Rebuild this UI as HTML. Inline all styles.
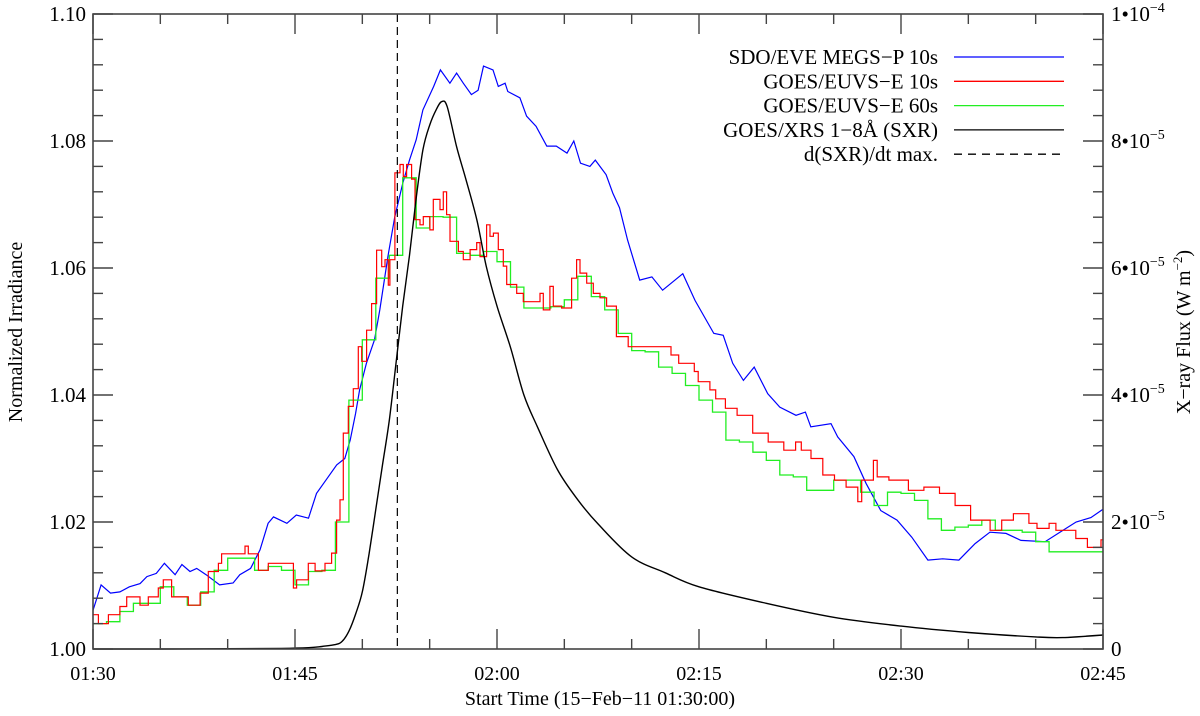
<!DOCTYPE html>
<html><head><meta charset="utf-8"><title>Irradiance chart</title>
<style>html,body{margin:0;padding:0;background:#fff;}svg{display:block;font-family:"Liberation Serif",serif;}</style>
</head><body>
<svg id="chart" width="1200" height="716" viewBox="0 0 1200 716" xmlns="http://www.w3.org/2000/svg">
<rect x="0" y="0" width="1200" height="716" fill="#fff"/>
<g id="series"></g>
<g id="axes"></g>
<g id="legend"></g>
<text x="600" y="705" font-size="20" text-anchor="middle">Start Time (15−Feb−11 01:30:00)</text>
<text transform="translate(22,332) rotate(-90)" font-size="20" text-anchor="middle">Normalized Irradiance</text>
<text transform="translate(1190,332) rotate(-90)" font-size="20" text-anchor="middle">X−ray Flux (W m<tspan dy="-8" font-size="13">−2</tspan><tspan dy="8">)</tspan></text>
</svg>
<script>
// ---- data (time in minutes after 01:30) ----
const blueT = [0,0.6,1.3,2,2.7,3.5,4,4.7,5.3,6.1,6.6,7.2,7.7,8.4,9.4,10.4,10.9,11.7,12.4,13,13.4,14.4,15.1,16,16.6,17.4,18.1,18.7,19.1,19.5,19.8,20.3,20.9,21.3,21.9,22.4,23,23.5,24,24.5,25.3,25.8,26.5,27,27.5,28.1,28.6,29,29.7,30.1,30.6,30.8,31.7,32.2,32.9,33.7,34.4,35.2,35.7,36.2,36.9,37.3,38.1,38.6,39.1,39.7,40.6,41.5,42.3,43.8,44.7,46.1,46.8,47.5,48.3,49.1,50.1,51,52.2,52.9,53.3,54.8,55.3,56.5,57.4,58.5,59.7,60.8,62,63.1,64.3,65.5,66.6,67.8,68.9,70.7,71.8,73,74.1,75];
const blueV = [1.0061,1.0101,1.0088,1.009,1.0098,1.0103,1.0114,1.0119,1.0135,1.0117,1.0133,1.0122,1.0127,1.0117,1.0101,1.0104,1.0117,1.0127,1.0156,1.0198,1.0208,1.0198,1.0211,1.0206,1.0245,1.0269,1.029,1.030,1.0329,1.0371,1.0408,1.045,1.0487,1.0534,1.0618,1.068,1.0733,1.077,1.0802,1.0849,1.0886,1.0912,1.0891,1.0907,1.0891,1.0873,1.088,1.0918,1.0912,1.0886,1.0891,1.0878,1.0868,1.0839,1.0823,1.0792,1.0792,1.0781,1.08,1.0765,1.076,1.077,1.0747,1.0718,1.0695,1.0644,1.0581,1.0586,1.0565,1.0591,1.0549,1.0497,1.0494,1.045,1.0423,1.0444,1.0402,1.0381,1.0368,1.0373,1.035,1.0355,1.0334,1.0303,1.0261,1.0218,1.0203,1.0176,1.014,1.0142,1.014,1.0166,1.0184,1.0182,1.0171,1.0169,1.0184,1.02,1.0207,1.022];
const redT = [0,0.40,1.14,2.0,2.5,3.49,4.11,4.85,5.22,5.84,7.08,7.95,8.56,9.31,9.55,11.29,11.53,12.28,13.02,14.88,15.12,15.99,16.49,17.23,17.72,18.09,18.34,18.59,18.96,19.33,19.70,19.95,20.32,20.69,21.06,21.44,21.68,21.93,22.05,22.42,22.8,23.04,23.29,23.66,23.91,24.28,24.53,25.02,25.27,25.77,26.01,26.26,26.51,27.13,27.5,28.0,28.49,28.74,29.23,29.48,29.73,30.1,30.47,30.72,31.46,31.95,33.19,33.44,33.93,34.18,34.8,35.54,35.91,36.16,36.66,37.15,37.65,38.14,38.87,39.74,42.92,43.49,44.65,44.94,45.81,46.24,46.96,47.83,48.99,50.14,51.3,52.17,52.6,53.32,54.19,55.06,55.92,56.79,57.08,57.95,58.23,59.1,60.55,61.7,62.86,64.02,65.17,66.62,67.48,68.35,69.5,70.1,71.0,71.5,72.4,72.98,73.84,74.85];
const redV = [1.0054,1.004,1.0054,1.0067,1.0082,1.0069,1.0082,1.0096,1.0109,1.0082,1.0069,1.0088,1.0122,1.0135,1.015,1.0162,1.015,1.0124,1.0135,1.0096,1.0109,1.0135,1.0123,1.0135,1.0151,1.0203,1.0235,1.034,1.0382,1.041,1.0476,1.0453,1.0502,1.0544,1.0628,1.0602,1.0613,1.0573,1.0613,1.075,1.0763,1.0744,1.0763,1.074,1.0676,1.0668,1.0681,1.066,1.0708,1.0692,1.072,1.0684,1.0642,1.0626,1.0613,1.0629,1.064,1.0618,1.0668,1.065,1.0655,1.0629,1.0603,1.0574,1.056,1.0547,1.056,1.0534,1.0571,1.054,1.0537,1.0584,1.0613,1.0592,1.0576,1.056,1.0553,1.054,1.0492,1.0476,1.0463,1.045,1.0437,1.0421,1.0408,1.0394,1.0379,1.0368,1.034,1.0326,1.0313,1.0326,1.0313,1.03,1.0274,1.0266,1.0255,1.0232,1.0266,1.0297,1.0271,1.0266,1.025,1.0255,1.0245,1.0226,1.0203,1.0187,1.0203,1.0213,1.0198,1.019,1.0198,1.0187,1.0187,1.0174,1.016,1.0172];
const greenV = [1.004,1.0043,1.0059,1.0072,1.0072,1.0098,1.0082,1.0069,1.009,1.0124,1.0143,1.0143,1.0124,1.013,1.0124,1.0101,1.0122,1.0124,1.020,1.0392,1.0487,1.0584,1.062,1.0742,1.0663,1.0681,1.068,1.0623,1.062,1.0626,1.061,1.057,1.0537,1.0537,1.0539,1.055,1.0587,1.0555,1.0534,1.0497,1.047,1.0468,1.0444,1.0434,1.0415,1.0392,1.0373,1.0329,1.0326,1.031,1.0297,1.0274,1.0271,1.025,1.025,1.0266,1.0266,1.0247,1.0226,1.0247,1.0245,1.0234,1.0205,1.0187,1.0192,1.0195,1.0203,1.0187,1.0187,1.0184,1.0169,1.0153,1.0153,1.0153,1.0153];
const sxrT = [0,5,10,14,16,17,18,18.5,19,19.5,20,20.5,21,21.5,22,22.5,23,23.5,24,24.5,25,25.5,25.9,26.3,27,27.7,28.5,29.2,30,31,32,33,34.5,36,37.5,40,42.5,45,50,55,60,65,70,72,75];
const sxrV = [0,0,0.005,0.01,0.02,0.04,0.07,0.12,0.28,0.55,0.9,1.5,2.2,2.9,3.6,4.5,5.4,6.2,7.1,7.86,8.25,8.5,8.62,8.54,7.91,7.39,6.76,6.03,5.4,4.75,4.0,3.5,2.82,2.35,1.97,1.45,1.2,0.98,0.72,0.5,0.36,0.26,0.19,0.18,0.22];
const dtMaxTime = 22.6;
const yTicks = [1.00,1.02,1.04,1.06,1.08,1.10];
const y2Ticks = [0,2,4,6,8,10];
const xTickLabels = ["01:30","01:45","02:00","02:15","02:30","02:45"];

const X0=93, X1=1103, Y0=649, Y1=14;
function X(t){return X0+(X1-X0)*t/75;}
function Y(v){return Y0-(Y0-Y1)*(v-1)/0.1;}
function YF(f){return Y0-(Y0-Y1)*f/10;}
const NS="http://www.w3.org/2000/svg";
function mk(tag,attrs,parent){const e=document.createElementNS(NS,tag);for(const k in attrs)e.setAttribute(k,attrs[k]);parent.appendChild(e);return e;}
const S=document.getElementById('series'), A=document.getElementById('axes'), L=document.getElementById('legend');

// blue
let d='';blueT.forEach((t,i)=>{d+=(i?'L':'M')+X(t).toFixed(1)+' '+Y(blueV[i]).toFixed(1);});
let p=mk('path',{d:d,fill:'none',stroke:'#0000ff','stroke-width':1.2},S);


// green steps
d='';greenV.forEach((v,i)=>{d+=(i?'L':'M')+X(i).toFixed(1)+' '+Y(v).toFixed(1)+'L'+X(i+1).toFixed(1)+' '+Y(v).toFixed(1);});
p=mk('path',{d:d,fill:'none',stroke:'#22ee22','stroke-width':1.3},S);


// red steps
d='';redT.forEach((t,i)=>{const t2=i<redT.length-1?redT[i+1]:75;d+=(i?'L':'M')+X(t).toFixed(1)+' '+Y(redV[i]).toFixed(1)+'L'+X(t2).toFixed(1)+' '+Y(redV[i]).toFixed(1);});
p=mk('path',{d:d,fill:'none',stroke:'#ff0000','stroke-width':1.2},S);


// sxr smooth (Catmull-Rom through data points)
const P=sxrT.map((t,i)=>[X(t),YF(sxrV[i])]);
d='M'+P[0][0].toFixed(1)+' '+P[0][1].toFixed(1);
for(let i=0;i<P.length-1;i++){const p0=P[Math.max(0,i-1)],p1=P[i],p2=P[i+1],p3=P[Math.min(P.length-1,i+2)];
 const c1=[p1[0]+(p2[0]-p0[0])/6,p1[1]+(p2[1]-p0[1])/6],c2=[p2[0]-(p3[0]-p1[0])/6,p2[1]-(p3[1]-p1[1])/6];
 c1[1]=Math.min(c1[1],Y0);c2[1]=Math.min(c2[1],Y0);
 d+='C'+c1[0].toFixed(1)+' '+c1[1].toFixed(1)+' '+c2[0].toFixed(1)+' '+c2[1].toFixed(1)+' '+p2[0].toFixed(1)+' '+p2[1].toFixed(1);}
p=mk('path',{d:d,fill:'none',stroke:'#000','stroke-width':1.4,'stroke-linejoin':'round'},S);


// dashed
p=mk('line',{x1:X(dtMaxTime),x2:X(dtMaxTime),y1:Y1,y2:Y0,stroke:'#000','stroke-width':1.2,'stroke-dasharray':'8 5'},S);



// axes frame
p=mk('rect',{x:X0,y:Y1,width:X1-X0,height:Y0-Y1,fill:'none',stroke:'#444','stroke-width':1.6},A);


for(let m=0;m<=75;m+=5){const maj=m%15===0,len=maj?20:10,x=X(m);
 mk('line',{x1:x,x2:x,y1:Y0,y2:Y0-len,stroke:'#444','stroke-width':1.4},A);
 mk('line',{x1:x,x2:x,y1:Y1,y2:Y1+len,stroke:'#444','stroke-width':1.4},A);}
xTickLabels.forEach((s,i)=>{const e=mk('text',{x:X(i*15),y:680,'font-size':20,'text-anchor':'middle'},A);e.textContent=s;
 
 });
for(let k=0;k<=25;k++){const v=1+k*0.004,maj=k%5===0,len=maj?20:10,y=Y(v);
 mk('line',{x1:X0,x2:X0+len,y1:y,y2:y,stroke:'#444','stroke-width':1.4},A);
 mk('line',{x1:X1,x2:X1-len,y1:y,y2:y,stroke:'#444','stroke-width':1.4},A);}
yTicks.forEach(v=>{const e=mk('text',{x:86,y:Y(v)+7,'font-size':21,'text-anchor':'end'},A);e.textContent=v.toFixed(2);
 
 });
y2Ticks.forEach(f=>{const e=mk('text',{x:1111,y:YF(f)+7,'font-size':21},A);
 
 
 if(f===0){e.textContent='0';}
 else{const mant=f===10?1:f, ex=f===10?-4:-5;
  e.appendChild(document.createTextNode(mant+'•10'));
  const s=mk('tspan',{dy:-9,'font-size':14},e);s.textContent='−'+(-ex);}});

const legNames=["SDO/EVE MEGS−P 10s","GOES/EUVS−E 10s","GOES/EUVS−E 60s","GOES/XRS 1−8Å (SXR)","d(SXR)/dt max."];
const legColors=['#0000ff','#ff0000','#22ee22','#000','#000'];
const legKeys=['legend-entry-sdo-eve','legend-entry-euvs-10s','legend-entry-euvs-60s','legend-entry-xrs','legend-entry-dsxr-dt'];
legNames.forEach((n,i)=>{const y=57+i*24.3;
 const g=mk('g',{},L);
 
 
 const t=mk('text',{x:938,y:y+7,'font-size':21,'text-anchor':'end'},g);t.textContent=n;
 const ln=mk('line',{x1:954,x2:1064,y1:y,y2:y,stroke:legColors[i],'stroke-width':1.3},g);
 if(i===4)ln.setAttribute('stroke-dasharray','8 6');});
</script>
</body></html>
